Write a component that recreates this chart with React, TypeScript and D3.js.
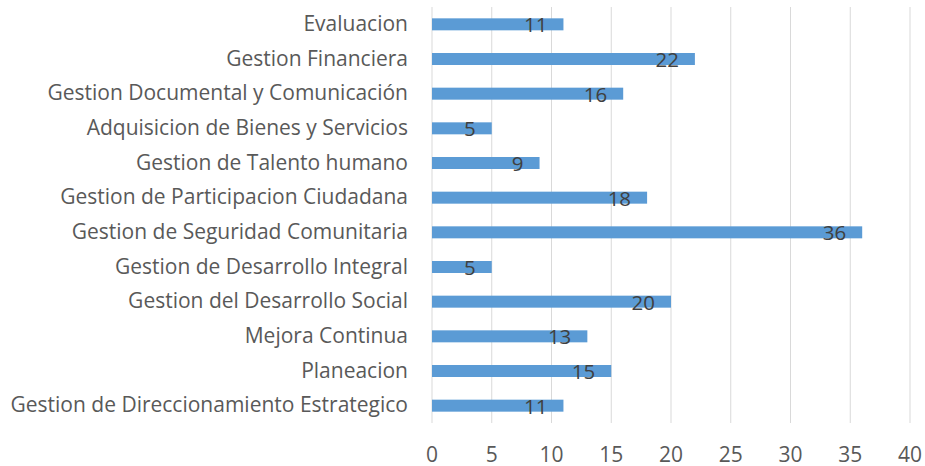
import React from "react";
import * as d3 from "d3";

const categories = [
  "Evaluacion",
  "Gestion Financiera",
  "Gestion Documental y Comunicación",
  "Adquisicion de Bienes y Servicios",
  "Gestion de Talento humano",
  "Gestion de Participacion Ciudadana",
  "Gestion de Seguridad Comunitaria",
  "Gestion de Desarrollo Integral",
  "Gestion del Desarrollo Social",
  "Mejora Continua",
  "Planeacion",
  "Gestion de Direccionamiento Estrategico",
];
const values = [11, 22, 16, 5, 9, 18, 36, 5, 20, 13, 15, 11];
const xTicks = [0, 5, 10, 15, 20, 25, 30, 35, 40];

const W = 925;
const H = 466;
const left = 432;
const right = 910;
const top = 7;
const bottom = 423;
const FONT = "'Open Sans', sans-serif";

export default function App() {
  const x = d3.scaleLinear().domain([0, 40]).range([left, right]);
  const p = 1 - 12 / ((bottom - top) / categories.length);
  const y = d3
    .scaleBand<string>()
    .domain(categories)
    .range([top, bottom])
    .paddingInner(p)
    .paddingOuter(p / 2);
  const bw = y.bandwidth();

  return (
    <div style={{ position: "fixed", left: 0, top: 0 }}>
      <svg width={W} height={H} style={{ display: "block", background: "#fff" }}>
        {xTicks.map((t) => (
          <line
            key={"g" + t}
            x1={x(t)}
            x2={x(t)}
            y1={top}
            y2={bottom}
            stroke="#d9d9d9"
            strokeWidth={1}
          />
        ))}
        {categories.map((c, i) => (
          <rect
            key={"b" + c}
            x={x(0)}
            y={y(c)!}
            width={x(values[i]) - x(0)}
            height={bw}
            fill="#5b9bd5"
          />
        ))}
        {categories.map((c, i) => (
          <text
            key={"v" + c}
            x={x(values[i]) - 16}
            y={y(c)! + bw / 2 + 8}
            textAnchor="end"
            fontFamily={FONT}
            fontSize={20.5}
            fill="#404040"
          >
            {values[i]}
          </text>
        ))}
        {categories.map((c) => (
          <text
            key={"c" + c}
            x={408}
            y={y(c)! + bw / 2 + 6.5}
            textAnchor="end"
            fontFamily={FONT}
            fontSize={21}
            fill="#595959"
          >
            {c}
          </text>
        ))}
        {xTicks.map((t) => (
          <text
            key={"t" + t}
            x={x(t)}
            y={461.5}
            textAnchor="middle"
            fontFamily={FONT}
            fontSize={21}
            fill="#595959"
          >
            {t}
          </text>
        ))}
      </svg>
    </div>
  );
}
